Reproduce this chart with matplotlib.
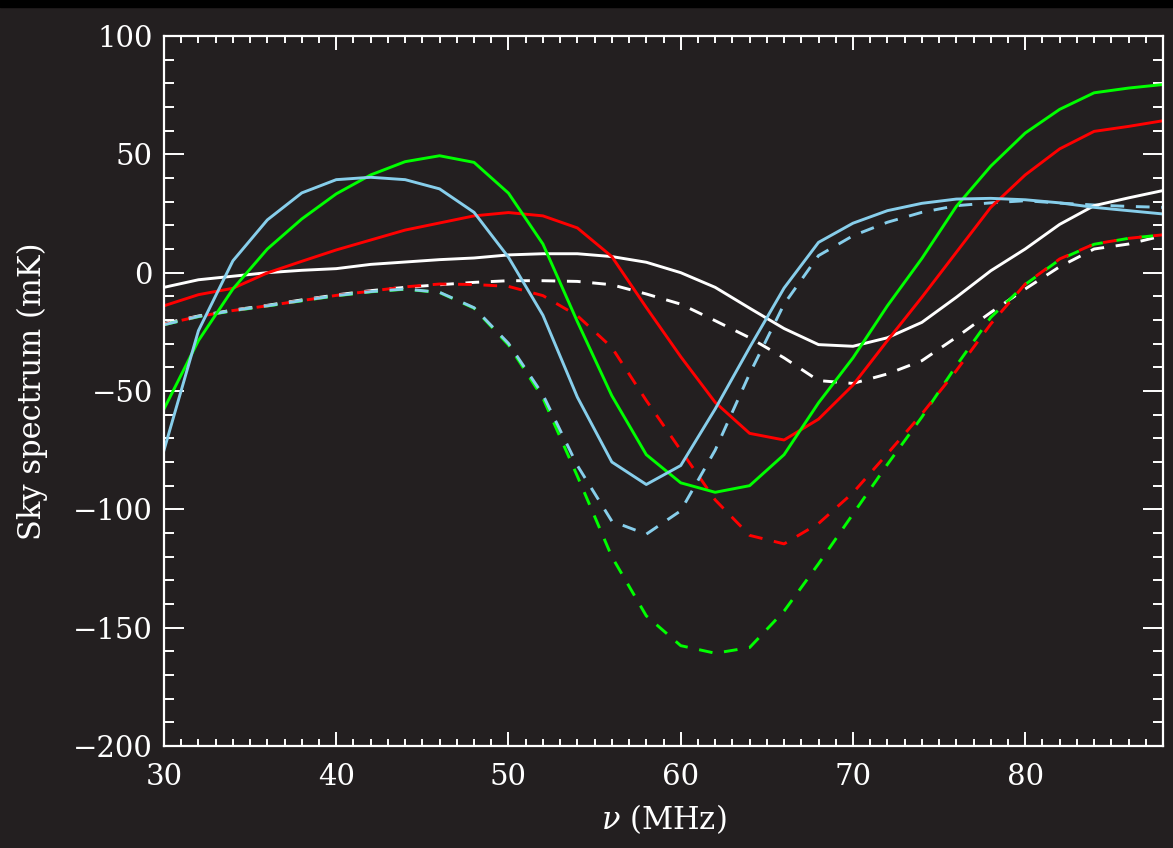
import numpy as np
import matplotlib
matplotlib.use("Agg")
import matplotlib.pyplot as plt
from matplotlib.ticker import MultipleLocator
from matplotlib.patches import Rectangle

plt.rcParams['font.family'] = ['DejaVu Serif']
plt.rcParams['mathtext.fontset'] = 'dejavuserif'

# frequency grid (MHz)
nu = np.arange(30, 89, 2)

# solid curves
white = [-6.2, -3, -1.5, 0, 1, 1.7, 3.5, 4.5, 5.5, 6.2, 7.5, 8, 8, 6.8, 4.4,
         0, -6.2, -15, -23.6, -30.4, -31.1, -27.5, -21, -10.4, 0.8, 10, 20.4, 28.3, 31.6, 34.7]
red = [-14, -9.3, -6.6, -0.1, 4.8, 9.6, 13.8, 18, 21, 24, 25.4, 24, 18.9, 6.8, -14.7,
       -35.5, -54.8, -67.9, -70.7, -61.9, -47.5, -28.7, -10.4, 8.6, 27.6, 41.3, 52.3, 59.7, 61.8, 64.2]
green = [-57.6, -28.7, -6.9, 10, 22.7, 33.3, 41.3, 46.9, 49.4, 46.6, 33.6, 12.1, -20.7, -52, -76.9,
         -88.8, -92.8, -90, -76.9, -55, -36, -14, 6, 28, 45, 59, 69, 76, 78, 79.5]
blue = [-75, -24.5, 5, 22.3, 33.7, 39.3, 40.3, 39.3, 35.4, 25.5, 6.5, -18, -52.6, -80, -89.5,
        -81.5, -57.6, -31.6, -6.5, 12.8, 20.9, 26.2, 29.3, 31.1, 31.4, 30.8, 29.5, 27.6, 26.2, 24.8]

# dashed curves
white_d = [-21.5, -18.3, -15.8, -13.8, -11.5, -9.4, -7.6, -6.2, -5.1, -4.1, -3.4, -3.4, -3.7, -5.1, -9,
           -13.3, -20.3, -27.5, -36, -45.6, -46.8, -42.8, -37.2, -27.3, -16.8, -6.9, 2.5, 10, 12.1, 15.6]
red_d = [-21.8, -18.5, -16, -14, -11.8, -9.6, -7.8, -6, -4.8, -5, -5.8, -9.7, -18.2, -31.6, -54,
         -75, -96, -111, -114.6, -106, -93, -76.5, -59.7, -41.4, -21.7, -4.8, 5.8, 12.1, 14.5, 16]
green_d = [-22, -18.6, -16.1, -14.1, -11.9, -9.8, -8.1, -7, -8.4, -15, -30.5, -53, -86, -120, -145,
           -157.6, -160.8, -158.4, -143, -123, -102, -81, -61, -39.3, -18.9, -5, 5.5, 12, 14.5, 16]
blue_d = [-22, -18.5, -16, -14, -11.8, -9.7, -8, -6.9, -8.3, -14.8, -29.9, -51.6, -81.5, -105, -110.5,
          -100.6, -75, -42.7, -13.3, 7.2, 15.6, 21.3, 25.5, 28.3, 29.5, 30.4, 29.4, 28.6, 28, 27.6]

bg = '#231f20'
fg = 'white'
c_red = '#ff0000'
c_green = '#00ff00'
c_blue = '#87ceeb'

fig = plt.figure(figsize=(11.73, 8.48), dpi=100, facecolor=bg)
ax = fig.add_axes([164/1173, 1-746/848, (1163-164)/1173, (746-36)/848])
ax.set_facecolor(bg)

# black strip along the top edge
fig.patches.append(Rectangle((0, 1-7/848), 1, 7/848, transform=fig.transFigure,
                             color='black', zorder=10))

lw = 2.1
dash = (4.7, 4.0)
ax.plot(nu, white_d, color=fg, lw=lw, linestyle=(0, dash))
ax.plot(nu, green_d, color=c_green, lw=lw, linestyle=(0, dash))
ax.plot(nu, red_d, color=c_red, lw=lw, linestyle=(2.5, dash))
ax.plot(nu, blue_d, color=c_blue, lw=lw, linestyle=(0, dash))
ax.plot(nu, white, color=fg, lw=lw)
ax.plot(nu, red, color=c_red, lw=lw)
ax.plot(nu, green, color=c_green, lw=lw)
ax.plot(nu, blue, color=c_blue, lw=lw)

ax.set_xlim(30, 88)
ax.set_ylim(-200, 100)
ax.xaxis.set_major_locator(MultipleLocator(10))
ax.xaxis.set_minor_locator(MultipleLocator(1))
ax.yaxis.set_major_locator(MultipleLocator(50))
ax.yaxis.set_minor_locator(MultipleLocator(10))

for s in ax.spines.values():
    s.set_color(fg)
    s.set_linewidth(1.6)

ax.tick_params(axis='x', which='both', direction='in', top=True, bottom=True,
               colors=fg, width=1.4, labelsize=21, pad=12)
ax.tick_params(axis='x', which='major', length=10)
ax.tick_params(axis='x', which='minor', length=5)
ax.tick_params(axis='y', which='both', direction='in', left=True, right=True,
               colors=fg, width=1.4, labelsize=21, pad=8)
ax.tick_params(axis='y', which='major', length=14.5)
ax.tick_params(axis='y', which='minor', length=7.5)

ax.set_xlabel(r'$\nu$ (MHz)', color=fg, fontsize=22, labelpad=8)
ax.set_ylabel('Sky spectrum (mK)', color=fg, fontsize=22, labelpad=18)

fig.savefig('out.png', dpi=100, facecolor=bg)
